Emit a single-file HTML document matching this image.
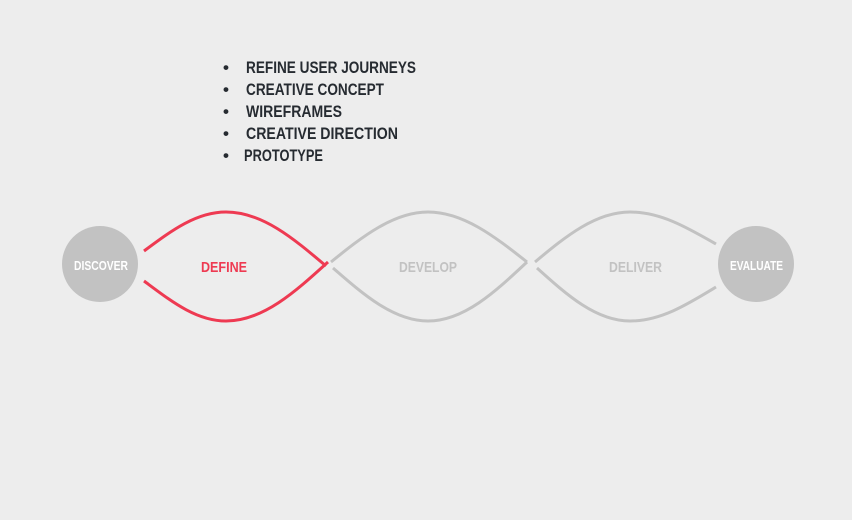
<!DOCTYPE html>
<html><head><meta charset="utf-8"><style>
html,body{margin:0;padding:0;background:#ededed;width:852px;height:520px;overflow:hidden}
</style></head><body>
<svg width="852" height="520" style="position:absolute;left:0;top:0" font-family="Liberation Sans, sans-serif" font-weight="bold">
<g fill="#262b31" font-size="17">
<text x="223" y="73">•</text><text x="246" y="73" textLength="170" lengthAdjust="spacingAndGlyphs">REFINE USER JOURNEYS</text>
<text x="223" y="95">•</text><text x="246" y="95" textLength="138" lengthAdjust="spacingAndGlyphs">CREATIVE CONCEPT</text>
<text x="223" y="117">•</text><text x="246" y="117" textLength="96" lengthAdjust="spacingAndGlyphs">WIREFRAMES</text>
<text x="223" y="139">•</text><text x="246" y="139" textLength="152" lengthAdjust="spacingAndGlyphs">CREATIVE DIRECTION</text>
<text x="223" y="161">•</text><text x="244" y="161" textLength="79" lengthAdjust="spacingAndGlyphs">PROTOTYPE</text>
</g>
<g fill="none" stroke="#c2c2c2" stroke-width="3">
<path d="M331 262 C363 236 394 212 428 212 C463 212 494 236 527 262"/>
<path d="M333 268 C364 295 394 321 428 321 C464 321 495 292 527 262"/>
<path d="M535 262 C566 236 596 212 630 212 C661 212 688 228 716 244"/>
<path d="M537 268 C567 295 596 321 630 321 C661 321 688 304 716 287"/>
</g>
<g fill="none" stroke="#ee3a52" stroke-width="3">
<path d="M144 251 C171 231 196 212 226 212 C262 212 293 238 326 266"/>
<path d="M144 281 C171 301 196 321 226 321 C263 321 295 292 328 262"/>
</g>
<circle cx="100" cy="264" r="38" fill="#c2c2c2"/>
<circle cx="756" cy="264" r="38" fill="#c2c2c2"/>
<text x="74" y="270" fill="#fff" font-size="13" textLength="54" lengthAdjust="spacingAndGlyphs">DISCOVER</text>
<text x="730" y="270" fill="#fff" font-size="13" textLength="53" lengthAdjust="spacingAndGlyphs">EVALUATE</text>
<text x="201" y="272" fill="#ee3a52" font-size="15" textLength="46" lengthAdjust="spacingAndGlyphs">DEFINE</text>
<text x="399" y="272" fill="#c2c2c2" font-size="15" textLength="58" lengthAdjust="spacingAndGlyphs">DEVELOP</text>
<text x="609" y="272" fill="#c2c2c2" font-size="15" textLength="53" lengthAdjust="spacingAndGlyphs">DELIVER</text>
</svg>
</body></html>
